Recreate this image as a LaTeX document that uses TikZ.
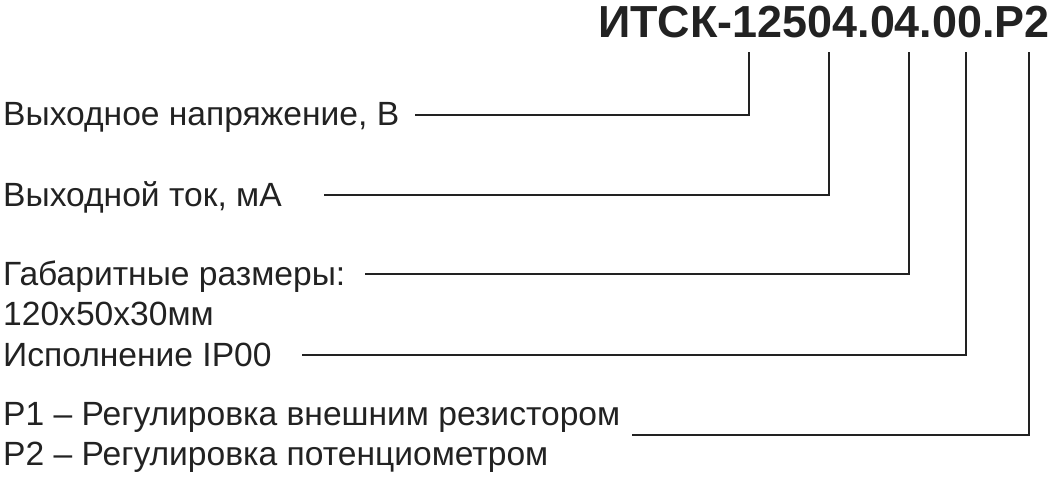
\documentclass[tikz,border=0pt]{standalone}
\usepackage{fontspec}
\setmainfont{Liberation Sans}
\usepackage{tikz}
\definecolor{ink}{HTML}{222222}
\newcommand{\lbltxt}{\fontsize{33.6}{38}\selectfont}
\newcommand{\codetxt}{\fontsize{44.9}{50}\selectfont\bfseries}

\begin{document}
\begin{tikzpicture}[x=1pt,y=-1pt,
    lbl/.style={anchor=base west,inner sep=0pt,text=ink,font=\lbltxt},
    conn/.style={draw=ink,line width=2.2pt}]
    \useasboundingbox(0,0)rectangle(1054,480);
    \node[anchor=base east,inner sep=0pt,text=ink,font=\codetxt](code)at(1050,37){ИТСК-12504.04.00.P2};
    \node[lbl](uout)at(3,125){Выходное напряжение, В};
    \node[lbl](iout)at(3,206){Выходной ток, мА};
    \node[lbl](dims)at(3,285){Габаритные размеры:};
    \node[lbl](size)at(3,325){120x50x30мм};
    \node[lbl](ip)at(3,366){Исполнение IP00};
    \node[lbl](pone)at(3,425){P1 – Регулировка внешним резистором};
    \node[lbl](ptwo)at(3,465){P2 – Регулировка потенциометром};
    % leader ends under the code
    \coordinate(s1)at(415,115); \coordinate(t1)at(749,52);
    \coordinate(s2)at(324,195); \coordinate(t2)at(829,52);
    \coordinate(s3)at(365,274); \coordinate(t3)at(909,52);
    \coordinate(s4)at(302,355); \coordinate(t4)at(966,52);
    \coordinate(s5)at(632,435); \coordinate(t5)at(1029,52);
    \draw[conn](s1)-|(t1);
    \draw[conn](s2)-|(t2);
    \draw[conn](s3)-|(t3);
    \draw[conn](s4)-|(t4);
    \draw[conn](s5)-|(t5);
  \end{tikzpicture}
\end{document}
